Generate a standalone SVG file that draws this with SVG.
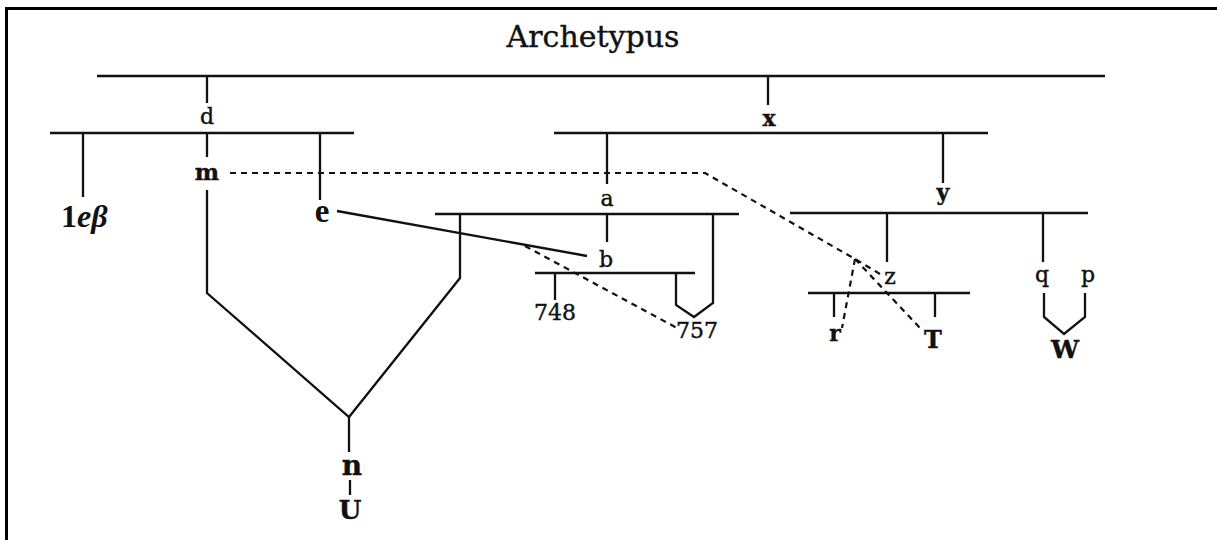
<svg xmlns="http://www.w3.org/2000/svg" width="1217" height="540" viewBox="0 0 1217 540">
<style>
.ln{stroke:#111;stroke-width:2.3;fill:none;stroke-linejoin:miter}
.ds{stroke:#111;stroke-width:2.2;fill:none;stroke-dasharray:6 5}
.t{font-family:"DejaVu Serif","Liberation Serif",serif;fill:#111;text-anchor:middle;stroke:#111;stroke-width:0.4}
.s{font-size:22px}
.b{font-weight:bold}
</style>
<rect x="0" y="0" width="1217" height="540" fill="#fff"/>
<path d="M6.5 540 V8.5 H1217" stroke="#000" stroke-width="3" fill="none"/>
<g id="connectors">
  <path class="ln" d="M97 76 H1105"/>
  <path class="ln" d="M207 76 V103"/>
  <path class="ln" d="M768 76 V105"/>
  <path class="ln" d="M50 133 H354"/>
  <path class="ln" d="M83 133 V197"/>
  <path class="ln" d="M207 133 V157"/>
  <path class="ln" d="M320 133 V200"/>
  <path class="ln" d="M554 133 H988"/>
  <path class="ln" d="M607 133 V184"/>
  <path class="ln" d="M943 133 V183"/>
  <path class="ln" d="M435 214 H739"/>
  <path class="ln" d="M607 214 V242"/>
  <path class="ln" d="M207 190 V293 L349 417 L460 278 V214"/>
  <path class="ln" d="M349 417 V452"/>
  <path class="ln" d="M350 480 V495"/>
  <path class="ln" d="M337 211 L587 256"/>
  <path class="ln" d="M535 273 H695"/>
  <path class="ln" d="M555 273 V300"/>
  <path class="ln" d="M676 273 V305 L694 317 L713 303 V214"/>
  <path class="ds" d="M525 246 L677 328"/>
  <path class="ln" d="M790 213 H1088"/>
  <path class="ln" d="M887 213 V262"/>
  <path class="ln" d="M1043 213 V262"/>
  <path class="ln" d="M808 293 H970"/>
  <path class="ln" d="M834 293 V317"/>
  <path class="ln" d="M935 293 V317"/>
  <path class="ln" d="M1044 293 V317 L1064 334 L1085 317 V293"/>
  <path class="ds" d="M230 173 H705 L855 259 L880 274"/>
  <path class="ds" d="M855 259 L921 329"/>
  <path class="ds" d="M855 259 L842 328"/>
</g>
<g id="archetypus"><text class="t" x="593" y="47" font-size="30">Archetypus</text></g>
<g id="node-d"><text class="t s" x="207" y="124">d</text></g>
<g id="node-x"><text class="t s b" x="769" y="126">x</text></g>
<g id="node-m"><text class="t b" x="207" y="180" font-size="23">m</text></g>
<g id="node-1eb"><text x="61" y="227" font-family="Liberation Serif,serif" font-weight="bold" font-size="32" fill="#111">1<tspan font-style="italic">eβ</tspan></text></g>
<g id="node-e"><text x="322" y="222" font-family="Liberation Serif,serif" font-weight="bold" font-size="33" fill="#111" text-anchor="middle">e</text></g>
<g id="node-a"><text class="t s" x="607" y="206">a</text></g>
<g id="node-y"><text class="t s b" x="943" y="200">y</text></g>
<g id="node-b"><text class="t s" x="606" y="267">b</text></g>
<g id="node-748"><text class="t s" x="555" y="320">748</text></g>
<g id="node-757"><text class="t s" x="697" y="338">757</text></g>
<g id="node-z"><text class="t s" x="890" y="284">z</text></g>
<g id="node-q"><text class="t s" x="1042" y="282">q</text></g>
<g id="node-p"><text class="t s" x="1088" y="282">p</text></g>
<g id="node-r"><text class="t s b" x="835" y="341">r</text></g>
<g id="node-T"><text class="t b" x="933" y="348" font-size="24">T</text></g>
<g id="node-W"><text class="t b" x="1065" y="358" font-size="25">W</text></g>
<g id="node-n"><text class="t b" x="352" y="475" font-size="28">n</text></g>
<g id="node-U"><text class="t b" x="350" y="519" font-size="26">U</text></g>
</svg>
